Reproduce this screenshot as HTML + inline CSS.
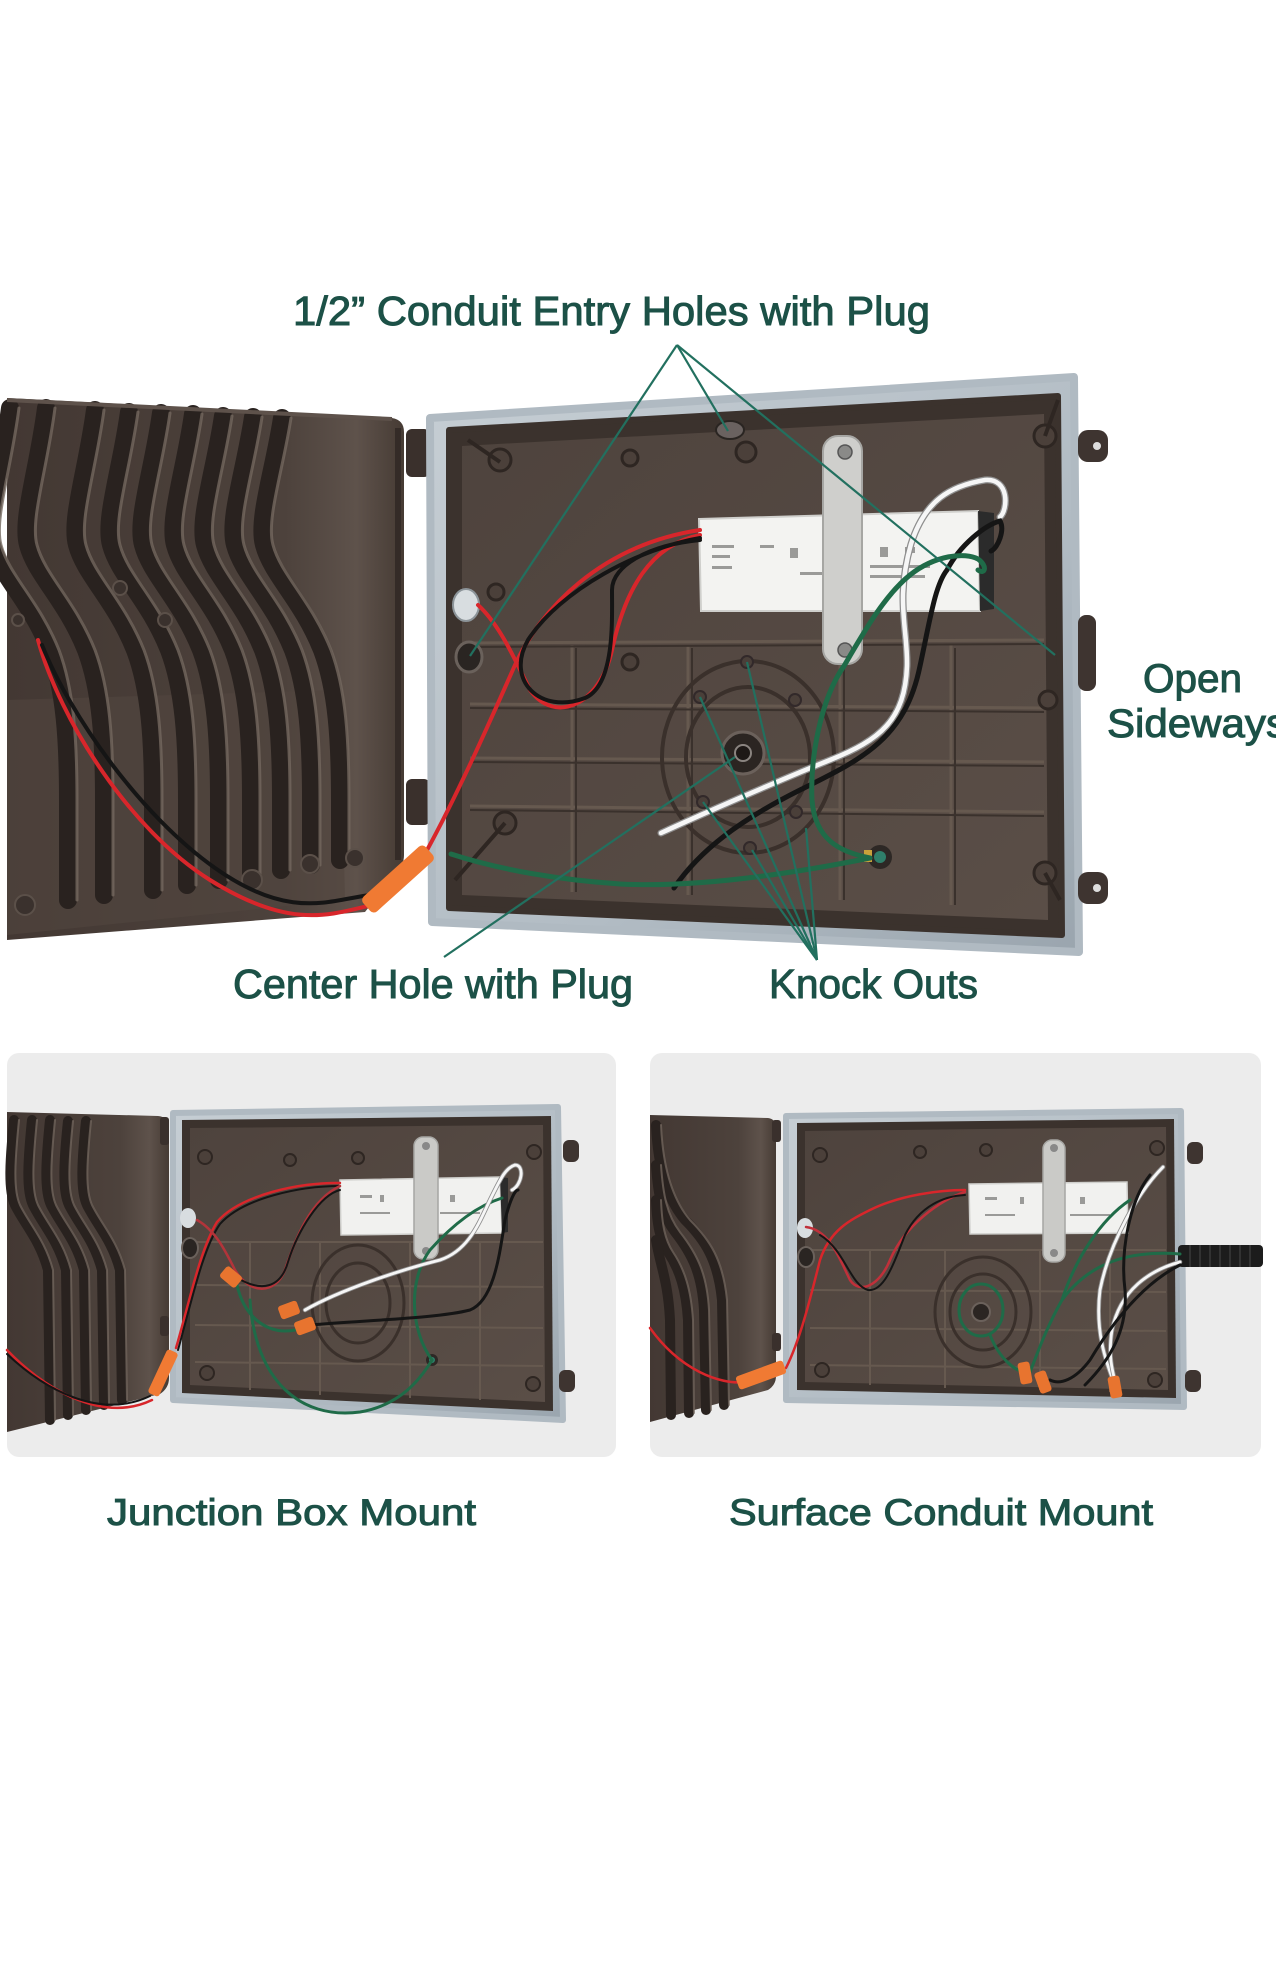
<!DOCTYPE html>
<html><head><meta charset="utf-8">
<style>html,body{margin:0;padding:0;background:#fff}svg{display:block}</style></head>
<body>
<svg width="1276" height="1978" viewBox="0 0 1276 1978" xmlns="http://www.w3.org/2000/svg">
<defs>
<linearGradient id="frameG" x1="0" y1="0" x2="1" y2="1">
<stop offset="0" stop-color="#c6ced4"/><stop offset="0.6" stop-color="#b2bcc4"/><stop offset="1" stop-color="#9aa5ae"/>
</linearGradient>
<linearGradient id="doorG" x1="0" y1="0" x2="1" y2="0">
<stop offset="0" stop-color="#433833"/><stop offset="0.7" stop-color="#4d423c"/><stop offset="0.88" stop-color="#5e524b"/><stop offset="1" stop-color="#463b34"/>
</linearGradient>
<linearGradient id="floorG" x1="0" y1="0" x2="1" y2="1">
<stop offset="0" stop-color="#4e433d"/><stop offset="1" stop-color="#5a4e47"/>
</linearGradient>
</defs>
<rect width="1276" height="1978" fill="#fff"/>

<!-- ================= TOP PHOTO ================= -->
<path d="M7,398 L392,418 Q404,420 404,432 L404,855 Q404,866 395,874 L365,912 L7,940 Z" fill="url(#doorG)"/>
<path d="M7,700 L340,690 L345,900 L7,935 Z" fill="#52463f" opacity="0.6"/>
<g fill="none" stroke-linecap="round">
<g stroke="#29221f" stroke-width="18">
<path d="M10,408 C2,470 -15,520 -8,545 C0,575 30,600 50,650 C65,690 68,740 68,800 L68,900"/>
<path d="M46,408 C38,470 21,520 28,545 C36,575 66,600 86,650 C101,690 104,740 104,800 L104,895"/>
<path d="M95,410 C87,470 70,520 77,545 C85,575 115,600 135,650 C150,690 153,740 153,800 L153,890"/>
<path d="M129,412 C121,470 104,520 111,545 C119,575 149,600 169,650 C184,690 187,740 187,800 L187,885"/>
<path d="M161,413 C153,470 136,520 143,545 C151,575 181,600 201,650 C216,690 219,740 219,800 L219,880"/>
<path d="M193,414 C185,470 168,520 175,545 C183,575 213,600 233,650 C248,690 251,740 251,800 L251,875"/>
<path d="M223,416 C215,470 198,520 205,545 C213,575 243,600 263,650 C278,690 281,740 281,800 L281,870"/>
<path d="M253,417 C245,470 228,520 235,545 C243,575 273,600 293,650 C308,690 311,740 311,800 L311,865"/>
<path d="M282,418 C274,470 257,520 264,545 C272,575 302,600 322,650 C337,690 340,740 340,800 L340,860"/>
</g>
<g stroke="#74685f" stroke-width="3" opacity="0.8" transform="translate(9,0)">
<path d="M10,408 C2,470 -15,520 -8,545 C0,575 30,600 50,650 C65,690 68,740 68,800 L68,900"/>
<path d="M46,408 C38,470 21,520 28,545 C36,575 66,600 86,650 C101,690 104,740 104,800 L104,895"/>
<path d="M95,410 C87,470 70,520 77,545 C85,575 115,600 135,650 C150,690 153,740 153,800 L153,890"/>
<path d="M129,412 C121,470 104,520 111,545 C119,575 149,600 169,650 C184,690 187,740 187,800 L187,885"/>
<path d="M161,413 C153,470 136,520 143,545 C151,575 181,600 201,650 C216,690 219,740 219,800 L219,880"/>
<path d="M193,414 C185,470 168,520 175,545 C183,575 213,600 233,650 C248,690 251,740 251,800 L251,875"/>
<path d="M223,416 C215,470 198,520 205,545 C213,575 243,600 263,650 C278,690 281,740 281,800 L281,870"/>
<path d="M253,417 C245,470 228,520 235,545 C243,575 273,600 293,650 C308,690 311,740 311,800 L311,865"/>
<path d="M282,418 C274,470 257,520 264,545 C272,575 302,600 322,650 C337,690 340,740 340,800 L340,860"/>
</g>
</g>
<path d="M7,400 L392,419" stroke="#5e524b" stroke-width="4"/>
<path d="M398,428 L398,860" stroke="#342b27" stroke-width="6"/>
<g fill="#3a312d" stroke="#5b5049" stroke-width="2">
<circle cx="252" cy="880" r="10"/><circle cx="310" cy="864" r="9"/><circle cx="355" cy="858" r="9"/><circle cx="25" cy="905" r="10"/>
<circle cx="165" cy="620" r="7"/><circle cx="120" cy="588" r="7"/><circle cx="18" cy="620" r="6"/>
</g>
<rect x="406" y="429" width="24" height="48" rx="6" fill="#3a302c"/>
<rect x="406" y="779" width="24" height="46" rx="6" fill="#3a302c"/>

<polygon points="430,418 1074,377 1079,952 432,922" fill="url(#frameG)" stroke="#b0bac2" stroke-width="8" stroke-linejoin="round"/>
<polygon points="449,430 1058,396 1062,935 449,908" fill="#3b322d" stroke="#3b322d" stroke-width="6" stroke-linejoin="round"/>
<polygon points="462,446 1044,414 1048,920 462,895" fill="url(#floorG)"/>
<g stroke="#66594f" stroke-width="3" fill="none">
<path d="M470,643 L1044,640"/><path d="M470,704 L1044,708"/><path d="M470,758 L1044,762"/><path d="M470,806 L1044,812"/>
<path d="M572,645 L572,892"/><path d="M688,645 L688,895"/><path d="M840,645 L840,900"/><path d="M951,645 L951,905"/>
</g>
<g stroke="#3a312c" stroke-width="2" fill="none">
<path d="M470,647 L1044,644"/><path d="M470,708 L1044,712"/><path d="M470,762 L1044,766"/><path d="M470,810 L1044,816"/>
<path d="M576,648 L576,892"/><path d="M692,648 L692,895"/><path d="M844,648 L844,900"/><path d="M955,648 L955,905"/>
</g>
<g fill="#4b403a" stroke="#2e2622" stroke-width="3">
<circle cx="500" cy="460" r="11"/><circle cx="1045" cy="436" r="11"/><circle cx="1045" cy="873" r="11"/><circle cx="505" cy="823" r="11"/>
<circle cx="746" cy="452" r="10"/><circle cx="496" cy="592" r="8"/><circle cx="630" cy="662" r="8"/><circle cx="630" cy="458" r="8"/><circle cx="1048" cy="700" r="9"/>
</g>
<path d="M468,440 L500,462 M1058,400 L1045,436 M1060,900 L1045,873 M455,880 L505,823" stroke="#2e2622" stroke-width="4"/>
<ellipse cx="730" cy="430" rx="14" ry="9" fill="#6a6260" stroke="#2a2522" stroke-width="2"/>
<ellipse cx="466" cy="605" rx="13" ry="16" fill="#d8dde0" stroke="#8c9499" stroke-width="2"/>
<ellipse cx="469" cy="657" rx="13" ry="15" fill="#2a2522" stroke="#6a615b" stroke-width="3"/>
<g fill="none" stroke="#3a302b" stroke-width="4">
<ellipse cx="748" cy="757" rx="86" ry="96"/>
<ellipse cx="748" cy="757" rx="62" ry="70"/>
</g>
<g fill="#4a3f39" stroke="#32292a" stroke-width="2">
<circle cx="700" cy="697" r="6"/><circle cx="747" cy="662" r="6"/><circle cx="703" cy="802" r="6"/><circle cx="795" cy="700" r="6"/><circle cx="796" cy="812" r="6"/><circle cx="750" cy="848" r="6"/>
</g>
<circle cx="743" cy="753" r="21" fill="#2b2522" stroke="#6b615b" stroke-width="3"/>
<circle cx="743" cy="753" r="8" fill="#1d1816" stroke="#8a8480" stroke-width="2"/>
<polygon points="699,519 978,511 980,611 701,611" fill="#f3f3f1" stroke="#cfcfcc" stroke-width="2"/>
<polygon points="978,511 994,513 994,609 980,611" fill="#2b2b2b"/>
<g fill="#9a9a98">
<rect x="712" y="545" width="22" height="3"/><rect x="712" y="555" width="18" height="3"/><rect x="712" y="566" width="20" height="3"/>
<rect x="760" y="545" width="14" height="3"/><rect x="790" y="548" width="8" height="10"/><rect x="800" y="572" width="40" height="3"/>
<rect x="880" y="547" width="8" height="10"/><rect x="905" y="547" width="10" height="6"/><rect x="870" y="565" width="60" height="3"/><rect x="870" y="575" width="55" height="3"/>
</g>
<rect x="823" y="436" width="39" height="228" rx="15" fill="#cfcfcc" stroke="#a6a6a3" stroke-width="2"/>
<circle cx="845" cy="452" r="7" fill="#8a8a88" stroke="#555" stroke-width="1.5"/>
<circle cx="845" cy="650" r="7" fill="#8a8a88" stroke="#555" stroke-width="1.5"/>
<g fill="#3e3430">
<rect x="1078" y="430" width="30" height="32" rx="10"/><rect x="1078" y="872" width="30" height="32" rx="10"/>
<rect x="1078" y="615" width="18" height="76" rx="8"/>
</g>
<circle cx="1097" cy="446" r="4" fill="#ddd"/><circle cx="1097" cy="888" r="4" fill="#ddd"/>
<circle cx="880" cy="857" r="12" fill="#2d2825"/>
<circle cx="880" cy="857" r="6" fill="#2f7f6a"/>
<rect x="864" y="850" width="8" height="12" fill="#c9a23a"/>

<g fill="none" stroke-linecap="round">
<path d="M38,640 C60,720 130,830 210,880 S330,915 372,905" stroke="#d8262b" stroke-width="4"/>
<path d="M42,645 C70,715 140,815 215,868 S330,900 370,895" stroke="#151515" stroke-width="4"/>
<path d="M426,852 C460,790 495,710 515,665 C540,610 600,545 700,530" stroke="#d8262b" stroke-width="4"/>
<path d="M478,605 C500,625 515,660 530,690 C555,725 600,705 612,650 C625,590 650,545 700,535" stroke="#d8262b" stroke-width="4"/>
<path d="M700,538 C640,548 560,590 528,640 C505,680 540,715 585,698 C615,685 612,620 612,590 C612,565 650,545 700,540" stroke="#151515" stroke-width="4"/>
<path d="M661,833 C700,815 780,780 830,760 C880,740 905,720 907,666 C908,630 895,600 911,544 C925,500 950,486 985,480 C1010,478 1008,510 1000,517" stroke="#8e8e8e" stroke-width="7"/>
<path d="M661,833 C700,815 780,780 830,760 C880,740 905,720 907,666 C908,630 895,600 911,544 C925,500 950,486 985,480 C1010,478 1008,510 1000,517" stroke="#f6f6f6" stroke-width="4.5"/>
<path d="M674,888 C700,850 740,820 800,790 C860,760 905,740 920,666 C930,620 935,585 947,570 C960,545 985,525 1000,521 C1005,530 998,548 991,551" stroke="#151515" stroke-width="5"/>
<path d="M451,854 C500,870 560,880 620,884 C700,888 800,872 870,858" stroke="#1f6b48" stroke-width="5"/>
<path d="M870,858 C840,852 815,840 812,800 C810,760 820,700 844,666 C865,630 885,595 910,575 C935,555 965,552 978,559 C988,566 985,575 978,570" stroke="#1f6b48" stroke-width="5"/>
</g>
<rect x="-42" y="-10" width="84" height="20" rx="5" fill="#f07a33" transform="translate(398,879) rotate(-42)"/>

<g stroke="#22705f" stroke-width="2.2" fill="none">
<path d="M677,345 L470,656"/><path d="M677,345 L728,431"/><path d="M677,345 L1055,655"/>
<path d="M444,957 L735,757"/>
<path d="M817,960 L700,697"/><path d="M817,960 L747,662"/><path d="M817,960 L703,802"/><path d="M817,960 L806,828"/><path d="M817,960 L752,850"/>
</g>

<g font-family="'Liberation Sans', sans-serif" fill="#1c5147" stroke="#1c5147" stroke-width="1">
<text x="293" y="325" font-size="41" textLength="637" lengthAdjust="spacingAndGlyphs">1/2” Conduit Entry Holes with Plug</text>
<text x="233" y="998" font-size="41" textLength="400" lengthAdjust="spacingAndGlyphs">Center Hole with Plug</text>
<text x="769" y="998" font-size="41" textLength="209" lengthAdjust="spacingAndGlyphs">Knock Outs</text>
<text x="1143" y="692" font-size="40" textLength="99" lengthAdjust="spacingAndGlyphs">Open</text>
<text x="1107" y="737" font-size="40" textLength="180" lengthAdjust="spacingAndGlyphs">Sideways</text>
<text x="107" y="1525" font-size="37" textLength="369" lengthAdjust="spacingAndGlyphs">Junction Box Mount</text>
<text x="729" y="1525" font-size="37" textLength="424" lengthAdjust="spacingAndGlyphs">Surface Conduit Mount</text>
</g>

<!-- ================= BOTTOM LEFT ================= -->
<rect x="7" y="1053" width="609" height="404" rx="12" fill="#ececec"/>
<path d="M7,1112 L158,1116 Q169,1117 169,1128 L169,1378 Q169,1388 160,1394 L7,1432 Z" fill="url(#doorG)"/>
<g fill="none" stroke-linecap="round">
<g stroke="#29221f" stroke-width="10">
<path d="M14,1120 C10,1160 8,1190 15,1205 C25,1225 40,1240 48,1270 L50,1420"/>
<path d="M32,1120 C28,1160 26,1190 33,1205 C43,1225 58,1240 66,1270 L68,1415"/>
<path d="M50,1120 C46,1160 44,1190 51,1205 C61,1225 76,1240 84,1270 L86,1410"/>
<path d="M68,1121 C64,1160 62,1190 69,1205 C79,1225 94,1240 102,1270 L104,1405"/>
<path d="M86,1121 C82,1160 80,1190 87,1205 C97,1225 112,1240 120,1270 L122,1400"/>
</g>
<g stroke="#74685f" stroke-width="2" opacity="0.75" transform="translate(5,0)">
<path d="M14,1120 C10,1160 8,1190 15,1205 C25,1225 40,1240 48,1270 L50,1420"/>
<path d="M32,1120 C28,1160 26,1190 33,1205 C43,1225 58,1240 66,1270 L68,1415"/>
<path d="M50,1120 C46,1160 44,1190 51,1205 C61,1225 76,1240 84,1270 L86,1410"/>
<path d="M68,1121 C64,1160 62,1190 69,1205 C79,1225 94,1240 102,1270 L104,1405"/>
<path d="M86,1121 C82,1160 80,1190 87,1205 C97,1225 112,1240 120,1270 L122,1400"/>
</g>
</g>
<rect x="160" y="1117" width="9" height="28" rx="3" fill="#3a302c"/>
<rect x="160" y="1316" width="9" height="20" rx="3" fill="#3a302c"/>
<polygon points="173,1113 558,1107 563,1420 173,1400" fill="url(#frameG)" stroke="#b0bac2" stroke-width="6" stroke-linejoin="round"/>
<polygon points="182,1120 551,1116 553,1411 182,1393" fill="#3b322d"/>
<polygon points="190,1128 543,1125 545,1402 190,1385" fill="url(#floorG)"/>
<g stroke="#66594f" stroke-width="2" fill="none">
<path d="M195,1242 L543,1242"/><path d="M195,1285 L543,1287"/><path d="M195,1325 L543,1328"/><path d="M195,1362 L543,1366"/>
<path d="M250,1242 L250,1390"/><path d="M320,1242 L320,1395"/><path d="M410,1242 L410,1398"/><path d="M480,1242 L480,1400"/>
</g>
<g fill="#4b403a" stroke="#2e2622" stroke-width="2">
<circle cx="205" cy="1157" r="7"/><circle cx="534" cy="1152" r="7"/><circle cx="533" cy="1384" r="7"/><circle cx="207" cy="1373" r="7"/><circle cx="358" cy="1158" r="6"/><circle cx="290" cy="1160" r="6"/>
</g>
<ellipse cx="188" cy="1218" rx="8" ry="10" fill="#d8dde0"/>
<ellipse cx="190" cy="1248" rx="8" ry="10" fill="#2a2522" stroke="#6a615b" stroke-width="2"/>
<g fill="none" stroke="#3a302b" stroke-width="3"><ellipse cx="358" cy="1303" rx="46" ry="58"/><ellipse cx="358" cy="1303" rx="32" ry="40"/></g>
<polygon points="340,1180 500,1177 502,1233 341,1235" fill="#f1f1ef" stroke="#cfcfcc" stroke-width="1.5"/>
<polygon points="500,1177 508,1178 508,1232 502,1233" fill="#2b2b2b"/>
<g fill="#9a9a98"><rect x="360" y="1195" width="12" height="3"/><rect x="380" y="1195" width="4" height="7"/><rect x="450" y="1195" width="5" height="7"/><rect x="440" y="1212" width="40" height="2"/><rect x="360" y="1212" width="30" height="2"/></g>
<rect x="414" y="1137" width="24" height="122" rx="9" fill="#cacac7" stroke="#a6a6a3" stroke-width="1.5"/>
<circle cx="426" cy="1146" r="4" fill="#888"/><circle cx="426" cy="1251" r="4" fill="#888"/>
<g fill="#3e3430"><rect x="563" y="1140" width="16" height="22" rx="6"/><rect x="559" y="1370" width="16" height="22" rx="6"/></g>
<circle cx="432" cy="1360" r="6" fill="#2d2825"/><circle cx="432" cy="1360" r="3" fill="#2f7f6a"/>
<g fill="none" stroke-linecap="round">
<path d="M7,1350 C40,1385 100,1425 152,1400" stroke="#d8262b" stroke-width="2.5"/>
<path d="M7,1354 C45,1390 100,1420 150,1396" stroke="#151515" stroke-width="2"/>
<path d="M176,1348 C190,1300 200,1250 217,1222 C240,1195 300,1182 340,1183" stroke="#d8262b" stroke-width="2.5"/>
<path d="M178,1350 C192,1300 203,1248 220,1224 C243,1198 300,1186 340,1186" stroke="#151515" stroke-width="2"/>
<path d="M197,1220 C215,1230 225,1250 235,1270 C250,1295 275,1295 285,1270 C295,1240 310,1200 340,1186" stroke="#b2343a" stroke-width="2.5"/>
<path d="M241,1280 C260,1290 280,1290 288,1262 C298,1230 320,1195 340,1190" stroke="#151515" stroke-width="2"/>
<path d="M237,1285 C245,1320 270,1335 295,1330" stroke="#1f6b48" stroke-width="3"/>
<path d="M250,1300 C255,1380 300,1420 360,1412 C400,1405 420,1380 432,1360" stroke="#1f6b48" stroke-width="3"/>
<path d="M432,1360 C410,1330 408,1280 430,1250 C455,1222 480,1205 502,1198" stroke="#1f6b48" stroke-width="3"/>
<path d="M305,1310 C340,1290 400,1270 440,1260 C470,1250 480,1220 490,1200 C500,1180 505,1168 515,1165 C525,1165 522,1185 512,1190" stroke="#8e8e8e" stroke-width="4.5"/>
<path d="M305,1310 C340,1290 400,1270 440,1260 C470,1250 480,1220 490,1200 C500,1180 505,1168 515,1165 C525,1165 522,1185 512,1190" stroke="#f6f6f6" stroke-width="2.8"/>
<path d="M310,1325 C370,1320 440,1318 470,1310 C495,1300 500,1250 505,1220 C510,1200 515,1190 518,1190" stroke="#151515" stroke-width="3"/>
</g>
<rect x="-24" y="-6" width="48" height="12" rx="3" fill="#f07a33" transform="translate(163,1373) rotate(-65)"/>
<g fill="#e8742f">
<rect x="-10" y="-7" width="20" height="14" rx="3" transform="translate(231,1277) rotate(40)"/>
<rect x="-10" y="-7" width="20" height="14" rx="3" transform="translate(289,1310) rotate(-20)"/>
<rect x="-10" y="-7" width="20" height="14" rx="3" transform="translate(305,1326) rotate(-20)"/>
</g>

<!-- ================= BOTTOM RIGHT ================= -->
<rect x="650" y="1053" width="611" height="404" rx="12" fill="#ececec"/>
<path d="M650,1115 L768,1118 Q776,1119 776,1128 L776,1376 Q776,1385 768,1390 L650,1422 Z" fill="url(#doorG)"/>
<g fill="none" stroke-linecap="round">
<g stroke="#29221f" stroke-width="10">
<path d="M656,1125 C658,1170 668,1200 685,1220 C705,1240 718,1260 722,1300 L724,1405"/>
<path d="M656,1165 C658,1195 662,1215 675,1232 C693,1255 702,1275 704,1310 L706,1410"/>
<path d="M656,1200 C657,1225 660,1240 668,1252 C680,1270 686,1290 688,1320 L689,1413"/>
<path d="M656,1240 C660,1265 668,1280 670,1320 L671,1415"/>
</g>
<g stroke="#74685f" stroke-width="2" opacity="0.75" transform="translate(5,0)">
<path d="M656,1125 C658,1170 668,1200 685,1220 C705,1240 718,1260 722,1300 L724,1405"/>
<path d="M656,1165 C658,1195 662,1215 675,1232 C693,1255 702,1275 704,1310 L706,1410"/>
<path d="M656,1200 C657,1225 660,1240 668,1252 C680,1270 686,1290 688,1320 L689,1413"/>
</g>
</g>
<rect x="772" y="1120" width="9" height="22" rx="3" fill="#3a302c"/>
<rect x="772" y="1333" width="9" height="18" rx="3" fill="#3a302c"/>
<polygon points="786,1116 1181,1111 1184,1407 786,1400" fill="url(#frameG)" stroke="#b0bac2" stroke-width="6" stroke-linejoin="round"/>
<polygon points="797,1123 1174,1119 1176,1398 797,1390" fill="#3b322d"/>
<polygon points="805,1131 1166,1127 1168,1390 805,1382" fill="url(#floorG)"/>
<g stroke="#66594f" stroke-width="2" fill="none">
<path d="M810,1250 L1166,1250"/><path d="M810,1290 L1166,1292"/><path d="M810,1328 L1166,1331"/><path d="M810,1365 L1166,1369"/>
<path d="M870,1250 L870,1385"/><path d="M945,1250 L945,1388"/><path d="M1040,1250 L1040,1390"/><path d="M1110,1250 L1110,1392"/>
</g>
<g fill="#4b403a" stroke="#2e2622" stroke-width="2">
<circle cx="820" cy="1155" r="7"/><circle cx="1157" cy="1148" r="7"/><circle cx="1155" cy="1380" r="7"/><circle cx="822" cy="1370" r="7"/><circle cx="986" cy="1150" r="6"/><circle cx="920" cy="1152" r="6"/>
</g>
<ellipse cx="805" cy="1228" rx="8" ry="10" fill="#d8dde0"/>
<ellipse cx="806" cy="1257" rx="8" ry="10" fill="#2a2522" stroke="#6a615b" stroke-width="2"/>
<g fill="none" stroke="#3a302b" stroke-width="3"><ellipse cx="983" cy="1312" rx="48" ry="55"/><ellipse cx="983" cy="1312" rx="33" ry="38"/></g>
<circle cx="981" cy="1312" r="9" fill="#2b2522" stroke="#6b615b" stroke-width="2"/>
<polygon points="969,1184 1127,1182 1128,1233 970,1234" fill="#f1f1ef" stroke="#cfcfcc" stroke-width="1.5"/>
<g fill="#9a9a98"><rect x="985" y="1197" width="12" height="3"/><rect x="1020" y="1197" width="4" height="7"/><rect x="1080" y="1197" width="5" height="7"/><rect x="1070" y="1214" width="40" height="2"/><rect x="985" y="1214" width="30" height="2"/></g>
<rect x="1043" y="1140" width="22" height="122" rx="9" fill="#cacac7" stroke="#a6a6a3" stroke-width="1.5"/>
<circle cx="1054" cy="1148" r="4" fill="#888"/><circle cx="1054" cy="1253" r="4" fill="#888"/>
<g fill="#3e3430"><rect x="1187" y="1142" width="16" height="22" rx="6"/><rect x="1185" y="1370" width="16" height="22" rx="6"/></g>
<rect x="1178" y="1245" width="85" height="22" rx="4" fill="#1c1c1c"/>
<g stroke="#3a3a3a" stroke-width="1.5"><path d="M1190,1245 v22 M1200,1245 v22 M1210,1245 v22 M1220,1245 v22 M1230,1245 v22 M1240,1245 v22 M1250,1245 v22"/></g>
<g fill="none" stroke-linecap="round">
<path d="M650,1328 C680,1370 720,1385 745,1382" stroke="#d8262b" stroke-width="2.5"/>
<path d="M786,1368 C800,1340 810,1300 820,1260 C830,1230 850,1220 870,1210 C900,1195 940,1190 965,1190" stroke="#d8262b" stroke-width="2.5"/>
<path d="M806,1227 C830,1230 840,1260 850,1280 C860,1295 880,1285 890,1260 C905,1225 940,1200 965,1192" stroke="#c0303a" stroke-width="2.5"/>
<path d="M820,1235 C845,1250 850,1285 868,1290 C885,1292 895,1260 905,1235 C920,1205 945,1196 965,1195" stroke="#151515" stroke-width="2"/>
<ellipse cx="981" cy="1310" rx="22" ry="26" stroke="#1f6b48" stroke-width="3"/>
<path d="M990,1335 C1000,1360 1015,1370 1025,1373" stroke="#1f6b48" stroke-width="3"/>
<path d="M1180,1254 C1130,1250 1090,1262 1062,1300 C1045,1330 1035,1360 1030,1372" stroke="#1f6b48" stroke-width="3"/>
<path d="M1130,1200 C1100,1220 1075,1260 1062,1300" stroke="#1f6b48" stroke-width="3"/>
<path d="M1163,1167 C1140,1190 1110,1240 1100,1290 C1095,1330 1105,1360 1115,1385" stroke="#8e8e8e" stroke-width="4.5"/>
<path d="M1163,1167 C1140,1190 1110,1240 1100,1290 C1095,1330 1105,1360 1115,1385" stroke="#f6f6f6" stroke-width="2.8"/>
<path d="M1180,1262 C1150,1270 1120,1290 1112,1330 C1108,1355 1112,1370 1116,1385" stroke="#8e8e8e" stroke-width="4.5"/>
<path d="M1180,1262 C1150,1270 1120,1290 1112,1330 C1108,1355 1112,1370 1116,1385" stroke="#f6f6f6" stroke-width="2.8"/>
<path d="M1150,1175 C1130,1200 1120,1250 1125,1290 C1128,1330 1110,1360 1085,1385" stroke="#151515" stroke-width="3"/>
<path d="M1180,1265 C1150,1280 1120,1310 1090,1360 C1075,1380 1060,1385 1050,1380" stroke="#151515" stroke-width="3"/>
</g>
<rect x="-25" y="-7" width="50" height="14" rx="3" fill="#f07a33" transform="translate(761,1375) rotate(-20)"/>
<g fill="#e8742f">
<rect x="-11" y="-6" width="22" height="12" rx="3" transform="translate(1025,1373) rotate(80)"/>
<rect x="-11" y="-6" width="22" height="12" rx="3" transform="translate(1043,1382) rotate(70)"/>
<rect x="-11" y="-6" width="22" height="12" rx="3" transform="translate(1115,1387) rotate(80)"/>
</g>
</svg>
</body></html>
